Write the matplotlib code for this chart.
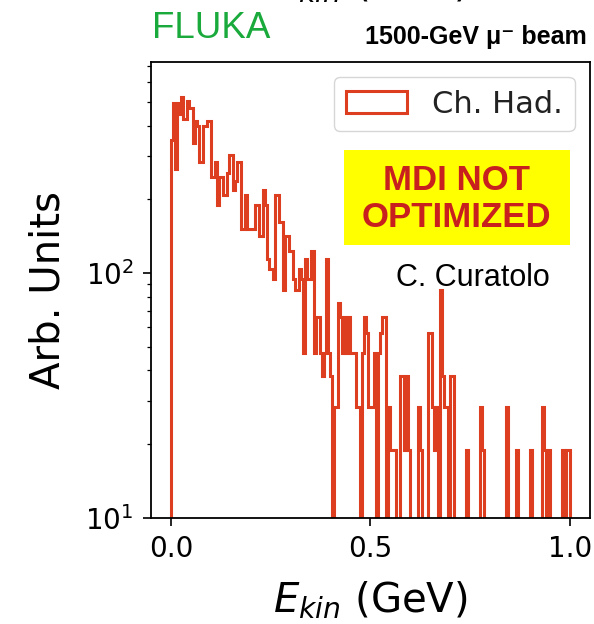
import numpy as np
import matplotlib
matplotlib.use("Agg")
import matplotlib.pyplot as plt
from matplotlib.patches import Rectangle

# ---- data ----
e_min, e_max, n_bins = 0.0, 1.0, 200
arb_per_count = 9.47
counts = [
    37, 52, 28, 52, 47, 55, 45, 45, 53, 50,
    50, 36, 44, 42, 30, 30, 42, 42, 44, 44,
    26, 26, 30, 20, 26, 26, 22, 22, 27, 32,
    32, 23, 25, 30, 30, 16, 16, 22, 16, 16,
    16, 16, 20, 20, 15, 15, 23, 20, 12, 11,
    11, 10, 22, 22, 17, 17, 9, 15, 15, 13,
    13, 10, 9, 9, 11, 10, 5, 12, 10, 10,
    13, 13, 5, 7, 7, 5, 4, 5, 12, 5,
    4, 0, 3, 3, 8, 7, 5, 7, 5, 7,
    5, 5, 5, 3, 3, 0, 5, 7, 6, 3,
    3, 3, 5, 0, 5, 6, 7, 7, 0, 3,
    2, 2, 2, 0, 0, 4, 4, 2, 4, 2,
    0, 0, 0, 0, 3, 2, 0, 0, 0, 6,
    6, 3, 2, 3, 0, 9, 4, 3, 3, 0,
    4, 4, 0, 0, 0, 0, 0, 0, 2, 0,
    0, 0, 0, 0, 0, 3, 2, 0, 0, 0,
    0, 0, 0, 0, 0, 0, 0, 0, 3, 0,
    0, 0, 0, 2, 0, 0, 0, 0, 0, 0,
    2, 0, 0, 0, 0, 0, 3, 2, 0, 2,
    0, 0, 0, 0, 0, 0, 2, 0, 2, 2,
]
series_label = "Ch. Had."
y_limits = (10, 727)
x_ticks = [0.0, 0.5, 1.0]

hist_color = "#de3e20"

fig = plt.figure(figsize=(5.94, 6.24), dpi=100)
ax = fig.add_axes([0.254, 0.170, 0.739, 0.7306])

edges = np.linspace(e_min, e_max, n_bins + 1)
centers = 0.5 * (edges[:-1] + edges[1:])
weights = np.asarray(counts, dtype=float) * arb_per_count

ax.hist(centers, bins=edges, weights=weights, histtype="step", log=True,
        color=hist_color, linewidth=2.2, label=series_label)

ax.set_ylim(*y_limits)
ax.set_xlim(-0.05, 1.05)
ax.set_xticks(x_ticks)
ax.tick_params(axis="both", which="major", labelsize=20, length=5.5,
               width=1.2, pad=7)
ax.tick_params(axis="both", which="minor", length=3, width=0.9)
for s in ax.spines.values():
    s.set_linewidth(1.3)

ax.set_xlabel(r"$E_{kin}$ (GeV)", fontsize=29, labelpad=12)
ax.set_ylabel("Arb. Units", fontsize=29, labelpad=12)

leg = ax.legend(loc="upper right", fontsize=22, handlelength=2.0,
                borderpad=0.4, framealpha=0.8)
for t in leg.get_texts():
    t.set_color("#222222")

# yellow warning box
ax.add_patch(Rectangle((0.44, 0.599), 0.514, 0.208, transform=ax.transAxes,
                       facecolor="#ffff00", edgecolor="none", zorder=3))
ax.text(0.697, 0.700, "MDI NOT\nOPTIMIZED", transform=ax.transAxes,
        ha="center", va="center", fontsize=25, fontweight="bold",
        color="#c8201e", family="Liberation Sans", linespacing=1.15, zorder=4)
ax.text(0.733, 0.526, "C. Curatolo", transform=ax.transAxes,
        ha="center", va="center", fontsize=22, color="black",
        family="Liberation Sans")

fig.text(0.256, 0.955, "FLUKA", ha="left", va="center", fontsize=26.5,
         color="#1aaa3c", family="Liberation Sans")
fig.text(0.987, 0.940, "1500-GeV μ⁻ beam", ha="right", va="center",
         fontsize=18, fontweight="bold", color="black",
         family=["Liberation Sans", "DejaVu Sans"])
# clipped label from the panel above
fig.text(0.623, 1.0 + 4.0 / 624, r"$E_{kin}$ (GeV)", ha="center",
         va="baseline", fontsize=29, color="black")

fig.savefig("out.png", dpi=100)
